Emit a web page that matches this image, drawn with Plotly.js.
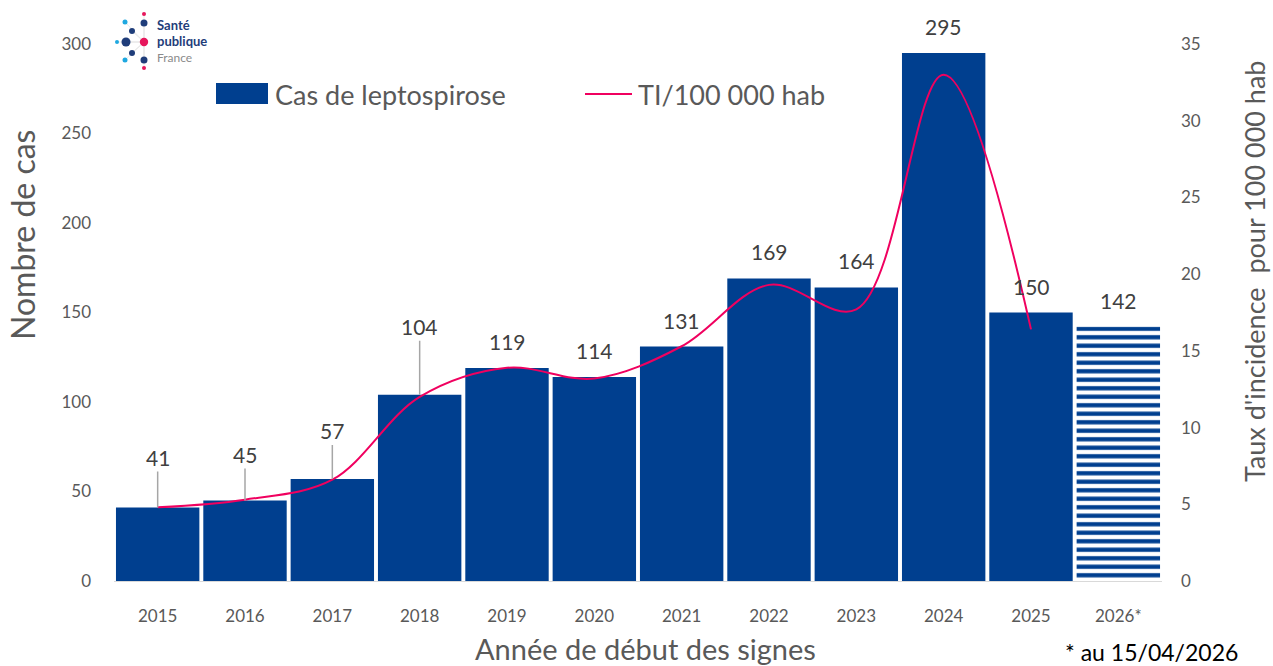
<!DOCTYPE html>
<html>
<head>
<meta charset="utf-8">
<script src="https://cdn.plot.ly/plotly-3.0.1.min.js"></script>
<style>html,body{margin:0;padding:0;background:#fff;}#chart{width:1273px;height:666px;}</style>
</head>
<body>
<div id="chart"></div>
<script>
// ---- data ----
const years = ['2015','2016','2017','2018','2019','2020','2021','2022','2023','2024','2025','2026*'];
const cases = [41, 45, 57, 104, 119, 114, 131, 169, 164, 295, 150, 142];
const rateYears = ['2015','2016','2017','2018','2019','2020','2021','2022','2023','2024','2025'];
const rates = [4.8, 5.3, 6.6, 12.0, 13.9, 13.2, 15.3, 19.3, 17.7, 33.0, 16.4];
const leaderOffsets = [-50, -46, -48, -68]; // label offsets for the first four bars
const casesLabel = 'Cas de leptospirose';
const rateLabel = 'TI/100 000 hab';

// ---- styling ----
const BLUE = '#003F8F';
const PINK = '#F0005F';
const FONT = 'Lato, "Open Sans", sans-serif';
const W = 1273, H = 666, L = 114, R = 1162, T = 44, B = 581;
const px = x => (x - L) / (R - L);
const py = y => (B - y) / (B - T);

const patternShapes = years.map(y => y.endsWith('*') ? '-' : '');

const traces = [
  {
    type: 'bar', x: years, y: cases, name: casesLabel, yaxis: 'y',
    marker: {color: BLUE, line: {width: 0},
      pattern: {shape: patternShapes, fgcolor: BLUE, bgcolor: '#ffffff', size: 8.5, solidity: 0.5, fillmode: 'replace'}},
    hoverinfo: 'x+y', showlegend: false
  },
  {
    type: 'scatter', mode: 'lines', x: rateYears, y: rates, name: rateLabel, yaxis: 'y2',
    line: {color: PINK, width: 2, shape: 'spline', smoothing: 1},
    showlegend: false
  }
];

const LABEL_FONT = {family: FONT, size: 21, color: '#404040'};
const annotations = [];
cases.forEach((v, i) => {
  if (i < leaderOffsets.length) {
    annotations.push({x: i, y: v, xref: 'x', yref: 'y', text: String(v),
      showarrow: true, arrowhead: 0, arrowwidth: 1.5, arrowcolor: '#A6A6A6',
      ax: 0, ay: leaderOffsets[i], standoff: 0, font: LABEL_FONT});
  } else {
    annotations.push({x: i, y: v, xref: 'x', yref: 'y', text: String(v),
      showarrow: false, xanchor: 'center', yanchor: 'bottom', yshift: 12, font: LABEL_FONT});
  }
});

function paperText(x, y, text, opts) {
  return Object.assign({xref: 'paper', yref: 'paper', x: px(x), y: py(y), text: text,
    showarrow: false, xanchor: 'center', yanchor: 'middle'}, opts);
}
// axis titles
annotations.push(paperText(22, 235, 'Nombre de cas', {textangle: -90, font: {family: FONT, size: 32, color: '#595959'}}));
annotations.push(paperText(1254, 272, "Taux d'incidence  pour 100 000 hab", {textangle: -90, font: {family: FONT, size: 27, color: '#595959'}}));
annotations.push(paperText(645, 648, 'Année de début des signes', {font: {family: FONT, size: 29, color: '#595959'}}));
annotations.push(paperText(1240, 652, '* au 15/04/2026', {xanchor: 'right', font: {family: FONT, size: 23, color: '#000000'}}));

// legend (manual)
annotations.push(paperText(273, 94, casesLabel, {xanchor: 'left', font: {family: FONT, size: 27, color: '#595959'}}));
annotations.push(paperText(636, 94, rateLabel, {xanchor: 'left', font: {family: FONT, size: 27, color: '#595959'}}));

// logo text
annotations.push(paperText(155, 25, '<b>Santé</b>', {xanchor: 'left', font: {family: FONT, size: 13, color: '#1F3D7A'}}));
annotations.push(paperText(155, 41, '<b>publique</b>', {xanchor: 'left', font: {family: FONT, size: 13, color: '#1F3D7A'}}));
annotations.push(paperText(155, 58, 'France', {xanchor: 'left', font: {family: FONT, size: 12, color: '#8A8A8A'}}));

const shapes = [
  {type: 'rect', xref: 'paper', yref: 'paper', x0: px(216), x1: px(268), y0: py(104), y1: py(83), fillcolor: BLUE, line: {width: 0}},
  {type: 'line', xref: 'paper', yref: 'paper', x0: px(585), x1: px(632), y0: py(94), y1: py(94), line: {color: PINK, width: 2}}
];
// logo dots
const dots = [
  [144, 42, 4.2, '#E6175C'], [126, 42, 4.5, '#1F3D7A'], [117, 42, 2, '#1FA8E0'],
  [132, 31, 3, '#1F3D7A'], [132, 53, 3, '#1F3D7A'], [144, 23, 3.5, '#1F3D7A'], [144, 60, 3.5, '#1F3D7A'],
  [125, 22, 2.5, '#1FA8E0'], [125, 60, 2.5, '#1FA8E0'], [144, 14, 2, '#E6175C'], [144, 68, 2, '#E6175C']
];
dots.forEach(d => {
  shapes.push({type: 'line', xref: 'paper', yref: 'paper', x0: px(144), y0: py(42), x1: px(d[0]), y1: py(d[1]),
    line: {color: '#E3E3E3', width: 0.8}, layer: 'below'});
});
dots.forEach(d => {
  shapes.push({type: 'circle', xref: 'paper', yref: 'paper', x0: px(d[0] - d[2]), x1: px(d[0] + d[2]),
    y0: py(d[1] + d[2]), y1: py(d[1] - d[2]), fillcolor: d[3], line: {width: 0}});
});

const layout = {
  width: W, height: H,
  margin: {l: L, r: W - R, t: T, b: H - B, pad: 0},
  paper_bgcolor: '#ffffff', plot_bgcolor: '#ffffff',
  bargap: 0.045,
  showlegend: false,
  xaxis: {type: 'category', range: [-0.5, years.length - 0.5], autorange: false,
    showgrid: false, zeroline: false, showline: true, linecolor: '#D9D9D9', linewidth: 1,
    ticks: '', ticklabelstandoff: 20, tickfont: {family: FONT, size: 17, color: '#595959'}},
  yaxis: {range: [0, 300], autorange: false, dtick: 50, showgrid: false, zeroline: false, showline: false, ticks: '',
    ticklabelstandoff: 22, tickfont: {family: FONT, size: 17, color: '#595959'}},
  yaxis2: {range: [0, 35], autorange: false, dtick: 5, overlaying: 'y', side: 'right', showgrid: false, zeroline: false,
    showline: false, ticks: '', ticklabelstandoff: 18, tickfont: {family: FONT, size: 17, color: '#595959'}},
  annotations: annotations,
  shapes: shapes
};

Plotly.newPlot('chart', traces, layout, {displayModeBar: false, staticPlot: true});
</script>
</body>
</html>
